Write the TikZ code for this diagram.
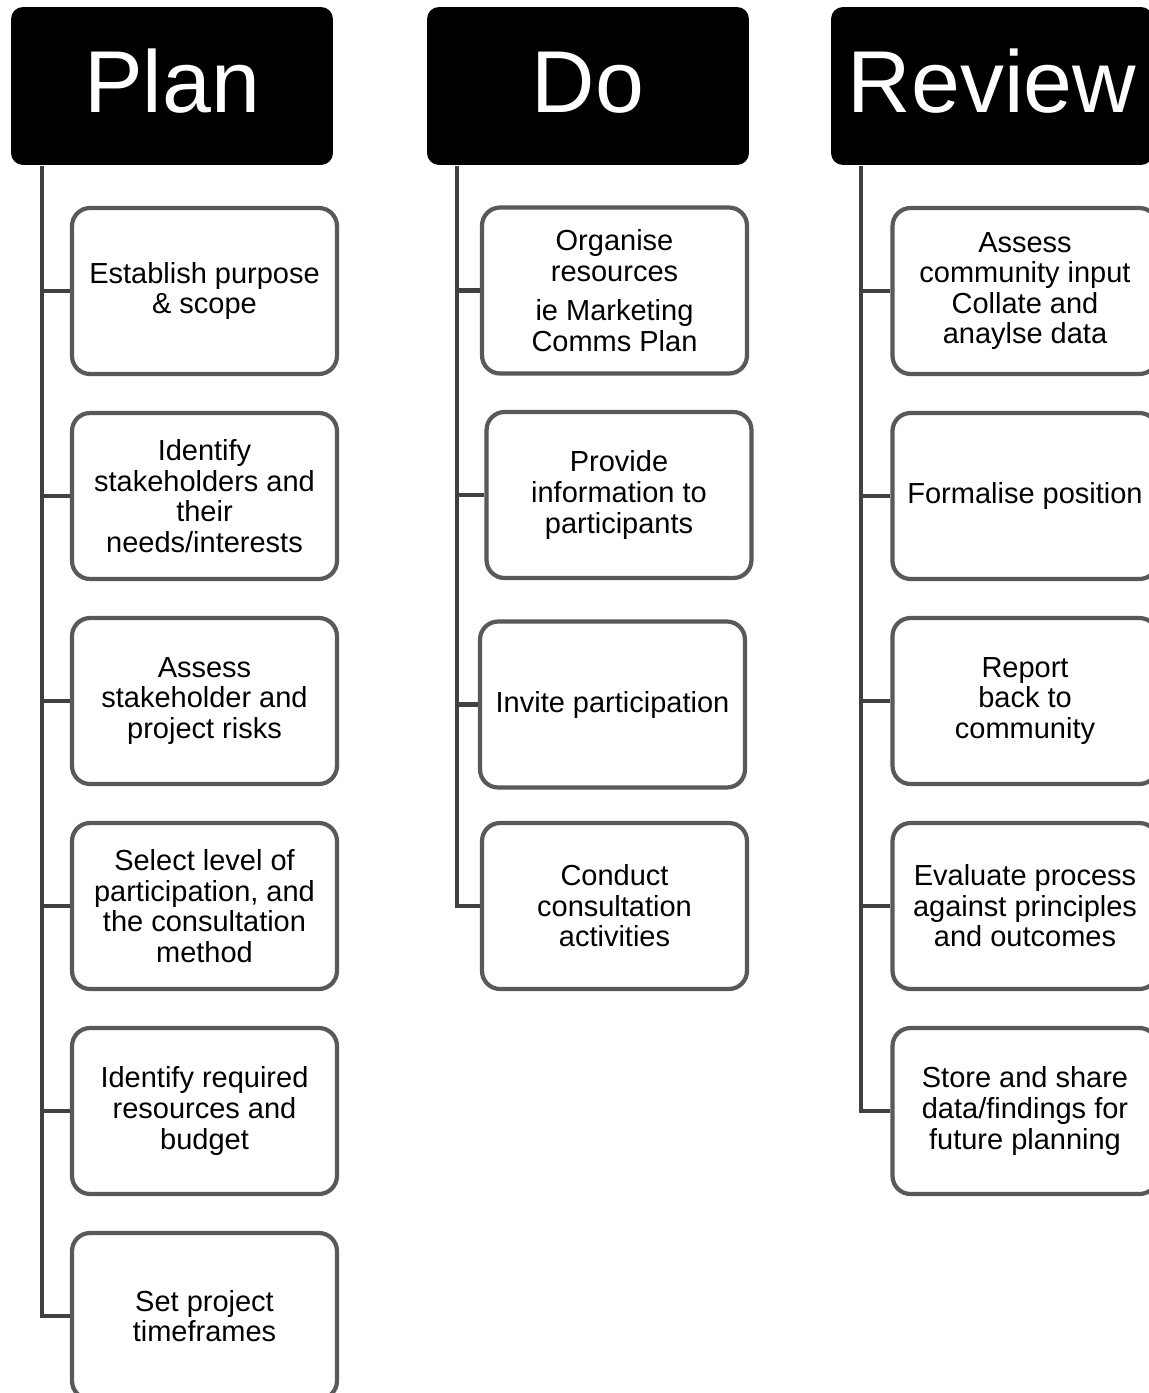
\documentclass[tikz,border=0pt]{standalone}
\usepackage{fontspec}
\setmainfont{Liberation Sans}
\definecolor{boxgray}{RGB}{89,89,89}
\definecolor{linegray}{RGB}{64,64,64}

\tikzset{
    head/.style={fill=black, rounded corners=0.24cm, minimum width=6.44cm, minimum height=3.16cm,
        inner sep=0pt, text=white, font=\fontsize{50}{60}\selectfont, text height=1.26cm, text depth=0.18cm},
    task/.style={draw=boxgray, line width=2.4pt, fill=white, rounded corners=0.36cm,
        minimum width=5.3cm, minimum height=3.32cm, inner sep=1pt, align=center,
        font=\fontsize{16.5}{17.4}\selectfont},
    spine/.style={draw=linegray, line width=2.8pt}
}

\begin{document}
\begin{tikzpicture}[x=0.02cm, y=-0.02cm]
            \useasboundingbox (0, 0) rectangle (1149, 1393);
            \clip (0, 0) rectangle (1149, 1393);

            % headers
            \node[head] (planhead) at (172, 86) {Plan};
            \node[head] (dohead) at (588, 86) {Do};
            \node[head] (reviewhead) at (992, 86) {Review};

            % spines
            \coordinate (plantop) at (42, 166);
            \coordinate (dotop) at (457, 166);
            \coordinate (reviewtop) at (861, 166);

            % plan column
            \node[task] (plan1) at (204.5, 291) {Establish purpose\\ \& scope};
            \node[task] (plan2) at (204.5, 496) {Identify\\ stakeholders and\\ their\\ needs/interests};
            \node[task] (plan3) at (204.5, 701) {Assess\\ stakeholder and\\ project risks};
            \node[task] (plan4) at (204.5, 906) {Select level of\\ participation, and\\ the consultation\\ method};
            \node[task] (plan5) at (204.5, 1111) {Identify required\\ resources and\\ budget};
            \node[task] (plan6) at (204.5, 1316) {Set project\\ timeframes};

            % do column
            \node[task] (do1) at (614.5, 290.5) {Organise\\ resources\\[5pt] ie Marketing\\ Comms Plan};
            \node[task] (do2) at (619, 495) {Provide\\ information to\\ participants};
            \node[task] (do3) at (612.5, 704.5) {Invite participation};
            \node[task] (do4) at (614.5, 906) {Conduct\\ consultation\\ activities};

            % review column
            \node[task] (review1) at (1025, 291) {Assess\\ community input\\ Collate and\\ anaylse data};
            \node[task] (review2) at (1025, 496) {Formalise position};
            \node[task] (review3) at (1025, 701) {Report\\ back to\\ community};
            \node[task] (review4) at (1025, 906) {Evaluate process\\ against principles\\ and outcomes};
            \node[task] (review5) at (1025, 1111) {Store and share\\ data/findings for\\ future planning};

            \foreach \i in {1,...,6}
                \draw[spine] (plantop) |- (plan\i.west);
            \foreach \i in {1,...,4}
                \draw[spine] (dotop) |- (do\i.west);
            \foreach \i in {1,...,5}
                \draw[spine] (reviewtop) |- (review\i.west);
        \end{tikzpicture}
\end{document}
